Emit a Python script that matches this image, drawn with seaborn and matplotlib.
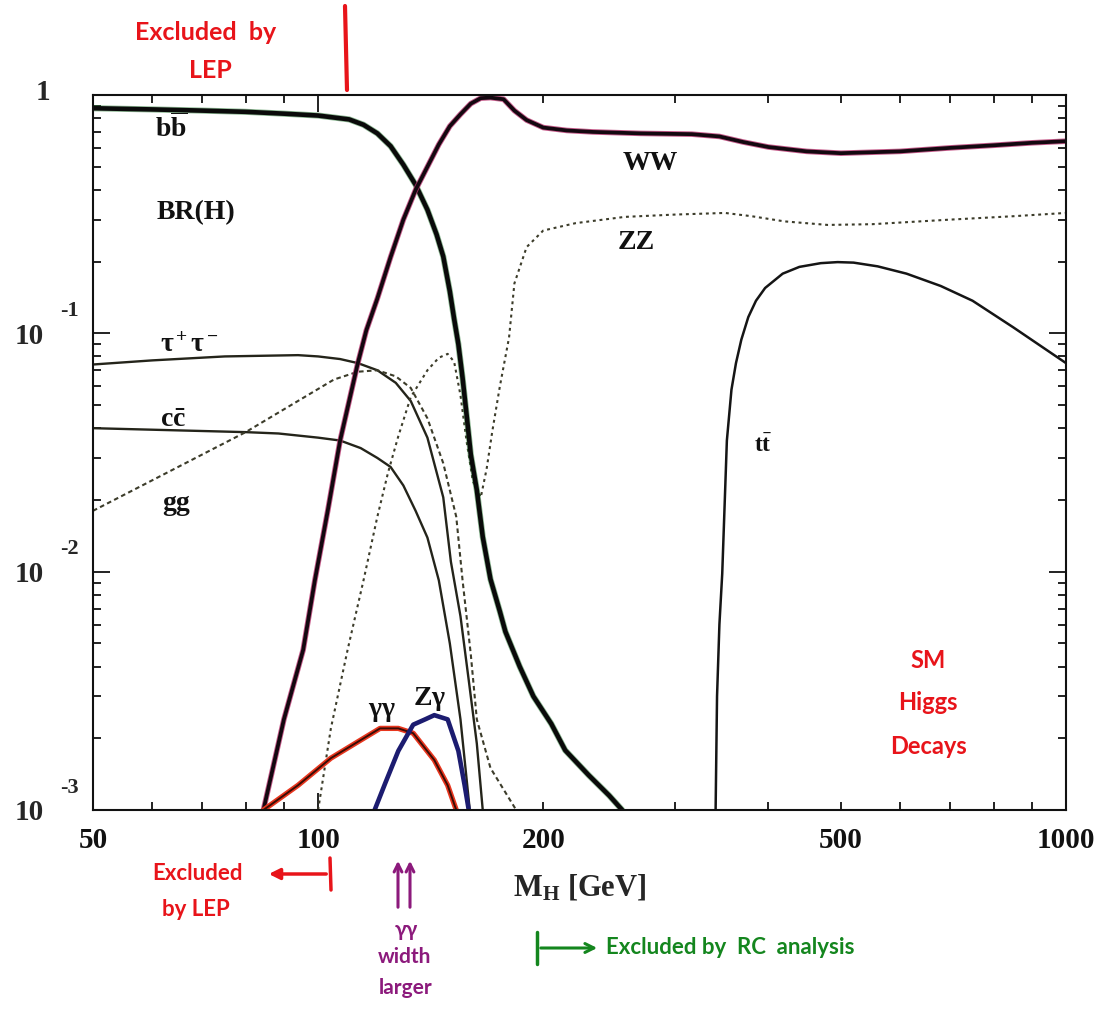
import matplotlib
matplotlib.use("Agg")
import matplotlib.pyplot as plt
import matplotlib.transforms as mtransforms
from matplotlib.lines import Line2D
from matplotlib.patches import FancyArrowPatch
from matplotlib.ticker import FixedLocator, FuncFormatter, NullFormatter
import pandas as pd
import seaborn as sns

# ---------------------------------------------------------------------------
# Standard Model Higgs branching ratios BR(H -> X) versus M_H [GeV]
# ---------------------------------------------------------------------------
m_bb  = [50, 60, 70, 80, 90, 100, 110, 115, 120, 125, 130, 135, 140, 144, 147,
         150, 152, 154, 156, 158, 160, 163, 166, 170, 175, 178, 186, 194, 205,
         214, 230, 245, 255]
br_bb = [0.88, 0.87, 0.86, 0.85, 0.835, 0.82, 0.79, 0.75, 0.69, 0.61, 0.51,
         0.42, 0.33, 0.26, 0.21, 0.15, 0.115, 0.09, 0.065, 0.045, 0.031, 0.022,
         0.014, 0.0093, 0.0068, 0.0056, 0.0040, 0.0030, 0.0023, 0.00178,
         0.00140, 0.00115, 0.00100]

m_ww  = [84.5, 90, 95.5, 99, 103, 107, 113, 116, 120, 125, 130, 135, 140, 145,
         150, 155, 160, 165, 170, 177, 183, 190, 200, 215, 233, 270, 316, 344,
         370, 400, 450, 500, 600, 700, 800, 900, 1000]
br_ww = [0.001, 0.0024, 0.0047, 0.0092, 0.018, 0.0355, 0.075, 0.103, 0.14,
         0.209, 0.30, 0.40, 0.50, 0.62, 0.74, 0.83, 0.92, 0.97, 0.975, 0.96,
         0.86, 0.785, 0.73, 0.71, 0.70, 0.69, 0.685, 0.67, 0.635, 0.605, 0.58,
         0.57, 0.58, 0.60, 0.615, 0.63, 0.64]

m_zz  = [100, 104, 109.5, 115, 120, 124, 128, 133, 140, 145, 149, 152, 155, 158,
         161, 165, 168, 171, 175, 180, 183, 190, 200, 221, 257, 300, 350, 380,
         420, 480, 550, 700, 850, 1000]
br_zz = [0.001, 0.0022, 0.0047, 0.0092, 0.017, 0.026, 0.037, 0.054, 0.070,
         0.079, 0.082, 0.076, 0.055, 0.035, 0.024, 0.0205, 0.027, 0.039, 0.060,
         0.096, 0.162, 0.23, 0.27, 0.29, 0.308, 0.315, 0.32, 0.31, 0.295, 0.285,
         0.287, 0.30, 0.31, 0.32]

m_gg  = [50, 80, 105, 113, 120, 127, 133, 140, 147, 153, 156, 160, 163, 170, 184]
br_gg = [0.0180, 0.0385, 0.064, 0.069, 0.070, 0.066, 0.059, 0.044, 0.0285,
         0.017, 0.0092, 0.0045, 0.0024, 0.0015, 0.001]

m_tau  = [50, 60, 75, 94, 100, 107, 113, 120, 127, 133, 140, 147, 150.5, 155,
          159, 163, 166]
br_tau = [0.074, 0.077, 0.080, 0.081, 0.080, 0.078, 0.075, 0.070, 0.062, 0.052,
          0.0365, 0.0205, 0.011, 0.0065, 0.0035, 0.0019, 0.001]

m_cc  = [50, 80, 88.5, 100, 107, 114, 120, 125, 130, 135, 140, 145, 150, 155,
         159.5]
br_cc = [0.040, 0.0385, 0.038, 0.0365, 0.0355, 0.033, 0.030, 0.0275, 0.023,
         0.018, 0.0139, 0.0092, 0.005, 0.0024, 0.001]

m_aa  = [84.5, 94, 104, 112, 121, 128, 134, 143, 149, 153]
br_aa = [0.001, 0.00127, 0.00165, 0.0019, 0.0022, 0.0022, 0.0021, 0.00162,
         0.00127, 0.001]

m_za  = [119, 123, 128, 134, 139, 143, 149, 154, 157, 159]
br_za = [0.001, 0.0013, 0.00177, 0.00228, 0.0024, 0.0025, 0.0024, 0.00177,
         0.00127, 0.001]

m_tt  = [340, 341.5, 344, 347, 352, 357, 362, 368, 376, 385, 396, 418, 440, 470,
         495, 520, 560, 612, 680, 750, 850, 1000]
br_tt = [0.001, 0.003, 0.006, 0.0098, 0.0355, 0.058, 0.075, 0.094, 0.117, 0.137,
         0.155, 0.178, 0.190, 0.197, 0.199, 0.198, 0.191, 0.178, 0.158, 0.137,
         0.106, 0.075]

x_ticks_labelled = [50, 100, 200, 500, 1000]
y_decades = [1e-3, 1e-2, 1e-1, 1]
y_decade_labels = [("10", "-3"), ("10", "-2"), ("10", "-1"), ("1", "")]

# ---------------------------------------------------------------------------
sns.set_theme(style="ticks")
plt.rcParams["font.family"] = ["Liberation Serif", "DejaVu Serif"]
plt.rcParams["mathtext.fontset"] = "custom"
plt.rcParams["mathtext.rm"] = "Liberation Serif"
plt.rcParams["mathtext.it"] = "Liberation Serif:italic"
plt.rcParams["mathtext.bf"] = "Liberation Serif:bold"

W, H = 1111, 1014
fig = plt.figure(figsize=(W / 100, H / 100), dpi=100)
fig.patch.set_facecolor("white")


def fx(px):
    return px / W


def fy(py):
    return 1 - py / H


ax = fig.add_axes([fx(93), fy(810), (1066 - 93) / W, (810 - 95) / H])
ax.set_facecolor("white")
ax.set_xscale("log")
ax.set_yscale("log")


def curve(m, br, **kw):
    df = pd.DataFrame({"M": m, "BR": br})
    sns.lineplot(data=df, x="M", y="BR", ax=ax, sort=False, estimator=None,
                 legend=False, **kw)


# thin fermion channels
curve(m_tau, br_tau, color="#24241a", lw=1.7)
curve(m_cc, br_cc, color="#24241a", lw=1.7)
# gluon and ZZ (dotted)
curve(m_gg, br_gg, color="#3c3c2a", lw=1.5, dashes=(2.2, 1.6))
curve(m_zz, br_zz, color="#3c3c2a", lw=1.5, dashes=(1.4, 1.8))
# top pair
curve(m_tt, br_tt, color="#151515", lw=1.8)
# bb and WW (thick)
curve(m_bb, br_bb, color="#2f7f3a", lw=4.4, alpha=0.55)
curve(m_bb, br_bb, color="#0a0a0a", lw=3.3)
curve(m_ww, br_ww, color="#b8336e", lw=4.0, alpha=0.8)
curve(m_ww, br_ww, color="#140810", lw=2.7)
# photon channels
curve(m_aa, br_aa, color="#e8361e", lw=3.8)
curve(m_aa, br_aa, color="#3a0c05", lw=1.4)
curve(m_za, br_za, color="#1c1c70", lw=3.3)

ax.set_xlim(50, 1000)
ax.set_ylim(1e-3, 1)
ax.set_xlabel("")
ax.set_ylabel("")

# ticks: long at decades, short elsewhere, all pointing inwards
ax.xaxis.set_major_locator(FixedLocator([100, 1000]))
ax.xaxis.set_minor_locator(FixedLocator([50, 60, 70, 80, 90, 200, 300, 400,
                                         500, 600, 700, 800, 900]))
lab_fmt = FuncFormatter(lambda v, p: f"{int(round(v))}"
                        if int(round(v)) in x_ticks_labelled else "")
ax.xaxis.set_major_formatter(lab_fmt)
ax.xaxis.set_minor_formatter(lab_fmt)
ax.yaxis.set_major_locator(FixedLocator(y_decades))
ax.yaxis.set_minor_locator(FixedLocator(
    [k * 10.0 ** e for e in (-3, -2, -1) for k in range(2, 10)]))
ax.yaxis.set_major_formatter(NullFormatter())
ax.yaxis.set_minor_formatter(NullFormatter())
ax.tick_params(which="both", direction="in", top=True, right=True,
               colors="#111111", width=1.3)
ax.tick_params(which="major", length=12)
ax.tick_params(which="minor", length=6)
ax.tick_params(axis="x", which="both", pad=12, labelsize=21)
for lab in ax.get_xticklabels(which="both"):
    lab.set_fontweight("bold")
for s in ax.spines.values():
    s.set_linewidth(1.5)
    s.set_color("#111111")

# y decade labels: "10" with a raised exponent
ytrans = mtransforms.blended_transform_factory(fig.transFigure, ax.transData)
for v, (base, expo) in zip(y_decades, y_decade_labels):
    if expo:
        t = mtransforms.offset_copy(ytrans, fig=fig, y=-2, units="points")
        fig.text(fx(29), v, base, transform=t, ha="center", va="center",
                 fontsize=21, fontweight="bold")
        te = mtransforms.offset_copy(ytrans, fig=fig, y=16, units="points")
        fig.text(fx(69), v, expo, transform=te, ha="center", va="center",
                 fontsize=16, fontweight="bold")
    else:
        t = mtransforms.offset_copy(ytrans, fig=fig, y=2, units="points")
        fig.text(fx(43), v, base, transform=t, ha="center", va="center",
                 fontsize=21, fontweight="bold")

# axis title
fig.text(fx(580), fy(887), r"$\mathbf{M_H}$ [GeV]", ha="center", va="center",
         fontsize=22, fontweight="bold")

# channel labels
lab_kw = dict(fontsize=20, fontweight="bold", color="#111111")
ax.text(60.6, 0.727, r"b$\mathbf{\overline{b}}$", ha="left", va="center",
        **lab_kw)
ax.text(60.9, 0.322, "BR(H)", ha="left", va="center", **lab_kw)
ax.text(61.4, 0.089, r"$\mathbf{\tau^+\tau^-}$", ha="left", va="center", **lab_kw)
ax.text(61.4, 0.0432, r"c$\mathbf{\bar{c}}$", ha="left", va="center", **lab_kw)
ax.text(61.8, 0.0194, "gg", ha="left", va="center", **lab_kw)
ax.text(278, 0.518, "WW", ha="center", va="center", **lab_kw)
ax.text(266, 0.241, "ZZ", ha="center", va="center", **lab_kw)
ax.text(393, 0.0338, r"t$\mathbf{\bar{t}}$", ha="center", va="center",
        fontsize=17, fontweight="bold", color="#111111")
ax.text(121.5, 0.00258, r"$\mathbf{\gamma\gamma}$", ha="center", va="center",
        **lab_kw)
ax.text(141, 0.00293, r"Z$\mathbf{\gamma}$", ha="center", va="center", **lab_kw)

# hand-written style notes
red = "#e8141a"
green = "#14861e"
purple = "#8c1a7c"
note = dict(family=["Lato", "DejaVu Sans"], fontweight="bold")

fig.text(fx(206), fy(33), "Excluded  by", ha="center", va="center",
         fontsize=18, color=red, **note)
fig.text(fx(210), fy(70), "LEP", ha="center", va="center",
         fontsize=18, color=red, **note)
fig.add_artist(Line2D([fx(345), fx(347)], [fy(6), fy(90)], color=red, lw=3,
                      transform=fig.transFigure))

for txt, yy in (("SM", 660), ("Higgs", 703), ("Decays", 746)):
    fig.text(fx(928), fy(yy), txt, ha="center", va="center", fontsize=17,
             color=red, **note)

fig.text(fx(198), fy(873), "Excluded", ha="center", va="center", fontsize=16,
         color=red, **note)
fig.text(fx(196), fy(910), "by LEP", ha="center", va="center", fontsize=16,
         color=red, **note)
fig.add_artist(Line2D([fx(330), fx(331)], [fy(858), fy(890)], color=red, lw=2.5,
                      transform=fig.transFigure))
fig.add_artist(FancyArrowPatch(
    (fx(329), fy(874)), (fx(266), fy(874)), transform=fig.transFigure,
    arrowstyle="-|>", mutation_scale=16, color=red, lw=2.5))

for xx in (398, 410):
    fig.add_artist(FancyArrowPatch(
        (fx(xx), fy(910)), (fx(xx), fy(858)), transform=fig.transFigure,
        arrowstyle="->", mutation_scale=14, color=purple, lw=2.2))
fig.text(fx(406), fy(930), "γγ", ha="center", va="center", fontsize=15,
         color=purple, **note)
fig.text(fx(404), fy(957), "width", ha="center", va="center", fontsize=15,
         color=purple, **note)
fig.text(fx(406), fy(988), "larger", ha="center", va="center", fontsize=15,
         color=purple, **note)

fig.add_artist(Line2D([fx(537), fx(537)], [fy(932), fy(964)], color=green,
                      lw=2.5, transform=fig.transFigure))
fig.add_artist(FancyArrowPatch(
    (fx(538), fy(948)), (fx(600), fy(948)), transform=fig.transFigure,
    arrowstyle="->", mutation_scale=16, color=green, lw=2.2))
fig.text(fx(606), fy(948), "Excluded by  RC  analysis", ha="left",
         va="center", fontsize=16, color=green, **note)

fig.savefig("out.png", dpi=100, facecolor="white")
